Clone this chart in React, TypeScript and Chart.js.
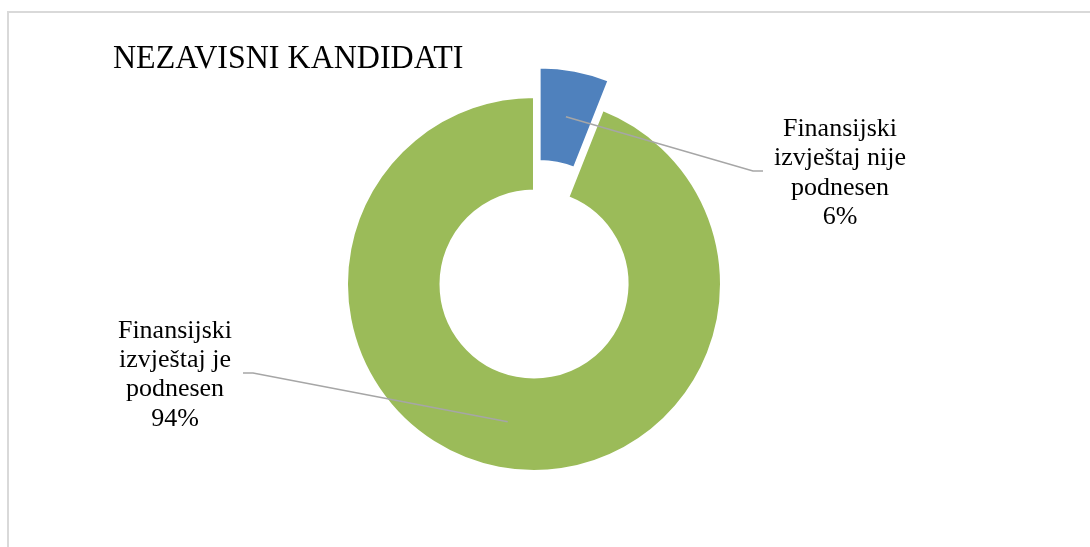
import React, { useEffect, useRef } from 'react';
import { Chart, registerables } from 'chart.js';

Chart.register(...registerables);

const TITLE = 'NEZAVISNI KANDIDATI';
const CATEGORIES = ['Finansijski izvještaj nije podnesen', 'Finansijski izvještaj je podnesen'];
const VALUES = [6, 94];
const LABEL_LINES = [
  ['Finansijski', 'izvještaj nije', 'podnesen'],
  ['Finansijski', 'izvještaj je', 'podnesen'],
];
const COLORS = ['#4F81BD', '#9BBB59'];
const EXPLODE = [30, 0];

const SERIF = '"Liberation Serif", "Times New Roman", serif';

const explodePlugin = {
  id: 'explodeSlices',
  afterUpdate(chart: any, _args: any, opts: any) {
    const meta = chart.getDatasetMeta(0);
    (opts.offsets || []).forEach((off: number, i: number) => {
      const arc = meta.data[i];
      if (!arc || !off) return;
      const mid = (arc.startAngle + arc.endAngle) / 2;
      arc.x += Math.cos(mid) * off;
      arc.y += Math.sin(mid) * off;
    });
  },
};

const labelPlugin = {
  id: 'calloutLabels',
  afterDraw(chart: any, _args: any, opts: any) {
    const ctx: CanvasRenderingContext2D = chart.ctx;
    const meta = chart.getDatasetMeta(0);
    const total = VALUES.reduce((a, b) => a + b, 0);

    (opts.items || []).forEach((it: any, i: number) => {
      const arc = meta.data[i];
      if (!arc) return;
      const p = arc.tooltipPosition(false);
      ctx.save();
      ctx.strokeStyle = '#a6a6a6';
      ctx.lineWidth = 1.5;
      ctx.beginPath();
      ctx.moveTo(p.x, p.y);
      ctx.lineTo(it.elbowX, it.elbowY);
      ctx.lineTo(it.endX, it.elbowY);
      ctx.stroke();

      ctx.fillStyle = '#000';
      ctx.font = `26px ${SERIF}`;
      ctx.textAlign = 'center';
      ctx.textBaseline = 'alphabetic';
      const pct = Math.round((VALUES[i] / total) * 100) + '%';
      const lines = [...LABEL_LINES[i], pct];
      lines.forEach((l, k) => ctx.fillText(l, it.x, it.y + k * 29.4));
      ctx.restore();
    });

    ctx.save();
    ctx.fillStyle = '#000';
    ctx.font = `32px ${SERIF}`;
    ctx.textAlign = 'left';
    ctx.textBaseline = 'alphabetic';
    ctx.translate(113, 67.5);
    ctx.scale(1, 1.08);
    ctx.fillText(TITLE, 0, 0);
    ctx.restore();
  },
};

export default function App() {
  const canvasRef = useRef<HTMLCanvasElement | null>(null);

  useEffect(() => {
    const canvas = canvasRef.current;
    if (!canvas) return;
    const chart = new Chart(canvas, {
      type: 'doughnut',
      data: {
        labels: CATEGORIES,
        datasets: [
          {
            data: VALUES,
            backgroundColor: COLORS,
            borderColor: '#ffffff',
            borderWidth: 2,
            hoverOffset: 0,
          },
        ],
      },
      options: {
        animation: false,
        responsive: false,
        rotation: 0,
        cutout: '50%',
        radius: 187,
        layout: { padding: { left: 300, right: 322, top: 90, bottom: 69 } },
        plugins: {
          legend: { display: false },
          tooltip: { enabled: false },
          title: { display: false },
          explodeSlices: { offsets: EXPLODE },
          calloutLabels: {
            items: [
              { x: 840, y: 136, elbowX: 753, elbowY: 171, endX: 763 },
              { x: 175, y: 337.5, elbowX: 253, elbowY: 373, endX: 243 },
            ],
          },
        } as any,
      },
      plugins: [explodePlugin, labelPlugin],
    });
    return () => chart.destroy();
  }, []);

  return (
    <div style={{ position: 'fixed', inset: 0, overflow: 'hidden', background: '#fff' }}>
      <div
        style={{
          position: 'absolute',
          left: 7,
          top: 11,
          width: 1200,
          height: 800,
          borderLeft: '2px solid #d9d9d9',
          borderTop: '2px solid #d9d9d9',
        }}
      />
      <canvas
        ref={canvasRef}
        width={1090}
        height={547}
        style={{ position: 'absolute', left: 0, top: 0, width: 1090, height: 547 }}
      />
    </div>
  );
}
